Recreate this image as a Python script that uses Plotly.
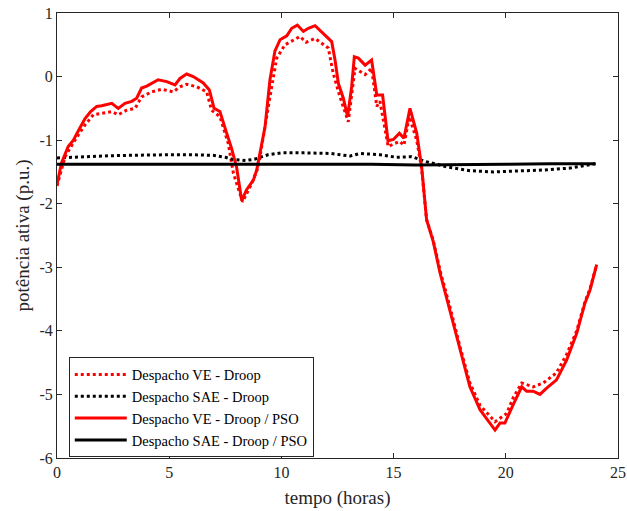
import plotly.graph_objects as go

# Despacho VE - Droop / PSO (red solid)
t_ve_pso = [0, 0.2, 0.5, 0.73, 1.0, 1.25, 1.5, 1.77, 1.99, 2.44, 2.73, 3.03, 3.33, 3.55, 3.77, 4.0,
            4.51, 4.89, 5.26, 5.48, 5.78, 6.07, 6.52, 6.79, 7.0, 7.26, 7.56, 7.78, 8.0, 8.23, 8.45,
            8.75, 8.9, 9.27, 9.49, 9.71, 9.94, 10.24, 10.46, 10.71, 10.98, 11.2, 11.5, 11.87, 12.24,
            12.39, 12.54, 12.76, 12.95, 13.13, 13.25, 13.43, 13.73, 14.02, 14.25, 14.51, 14.75, 14.99,
            15.26, 15.46, 15.73, 16.03, 16.25, 16.47, 16.77, 17.07, 17.51, 17.96, 18.4, 18.85, 19.52,
            19.74, 19.96, 20.33, 20.71, 20.93, 21.22, 21.52, 21.82, 22.26, 22.71, 23.16, 23.53, 23.75, 24.05]
ve_pso = [-1.70, -1.36, -1.10, -1.0, -0.82, -0.66, -0.55, -0.47, -0.46, -0.42, -0.50, -0.42, -0.39, -0.34, -0.18, -0.15,
          -0.05, -0.08, -0.13, -0.03, 0.04, 0.0, -0.10, -0.21, -0.50, -0.55, -0.89, -1.13, -1.42, -1.95, -1.78,
          -1.63, -1.47, -0.79, -0.05, 0.40, 0.58, 0.64, 0.76, 0.81, 0.71, 0.76, 0.80, 0.68, 0.55,
          0.26, -0.11, -0.34, -0.63, -0.16, 0.31, 0.29, 0.18, 0.26, -0.29, -0.29, -1.01, -0.99,
          -0.89, -0.97, -0.50, -0.89, -1.42, -2.25, -2.60, -3.09, -3.67, -4.30, -4.88, -5.24, -5.56,
          -5.45, -5.45, -5.16, -4.88, -4.95, -4.95, -5.0, -4.90, -4.77, -4.46, -4.04, -3.56, -3.36, -2.96]

# Despacho VE - Droop (red dotted)
t_ve_droop = [0, 0.36, 0.8, 1.25, 1.62, 1.99, 2.44, 2.73, 3.1, 3.48, 3.77, 4.22, 4.67, 5.18, 5.48, 5.78,
              6.22, 6.67, 6.89, 7.26, 7.63, 7.86, 8.27, 8.68, 8.97, 9.49, 9.79, 10.16, 10.83, 11.1, 11.5,
              12.09, 12.31, 12.61, 12.98, 13.28, 13.73, 14.02, 14.25, 14.39, 14.76, 15.06, 15.28, 15.46,
              15.7, 16.03, 16.25, 16.47, 16.77, 17.07, 17.51, 17.96, 18.4, 18.85, 19.52, 20.04, 20.33,
              20.71, 21.22, 21.67, 22.26, 22.71, 23.16, 23.53, 23.75, 24.05]
ve_droop = [-1.72, -1.26, -1.0, -0.76, -0.60, -0.58, -0.55, -0.60, -0.53, -0.50, -0.32, -0.24, -0.20, -0.24, -0.16, -0.12,
            -0.16, -0.24, -0.53, -0.63, -1.05, -1.52, -1.97, -1.68, -1.42, -0.32, 0.29, 0.50, 0.63, 0.54, 0.60,
            0.45, 0.05, -0.32, -0.71, 0.13, 0.03, 0.13, -0.47, -0.39, -1.10, -1.05, -1.02, -1.08,
            -0.63, -1.0, -1.45, -2.25, -2.58, -3.05, -3.62, -4.25, -4.82, -5.17, -5.43, -5.30, -5.05,
            -4.82, -4.88, -4.82, -4.66, -4.37, -4.0, -3.54, -3.34, -2.96]

# Despacho SAE - Droop (black dotted)
t_sae_droop = [0, 1, 2, 3, 4, 5, 6, 7, 7.5, 7.8, 8.4, 8.8, 9.4, 10.0, 11.0, 12.2, 13.06, 13.5, 14.4,
               15.14, 15.8, 16.47, 17.36, 18.4, 19.44, 20.48, 21.67, 22.86, 24.0]
sae_droop = [-1.28, -1.26, -1.25, -1.24, -1.23, -1.23, -1.23, -1.24, -1.27, -1.30, -1.32, -1.30, -1.23, -1.20,
             -1.20, -1.21, -1.25, -1.21, -1.23, -1.27, -1.26, -1.34, -1.42, -1.48, -1.50, -1.49, -1.47, -1.44, -1.37]

# Despacho SAE - Droop / PSO (black solid)
t_sae_pso = [0, 2, 4, 6, 8, 10, 12, 14, 16, 18, 20, 22, 24]
sae_pso = [-1.38, -1.38, -1.38, -1.37, -1.38, -1.38, -1.38, -1.38, -1.39, -1.39, -1.38, -1.37, -1.37]

x_ticks = [0, 5, 10, 15, 20, 25]
y_ticks = [1, 0, -1, -2, -3, -4, -5, -6]

SERIF = '"Liberation Serif", "Times New Roman", Times, serif'

fig = go.Figure()
fig.add_trace(go.Scatter(x=t_ve_droop, y=ve_droop, mode="lines", name="Despacho VE - Droop",
                         line=dict(color="#ff0000", width=3, dash="dot")))
fig.add_trace(go.Scatter(x=t_sae_droop, y=sae_droop, mode="lines", name="Despacho SAE - Droop",
                         line=dict(color="#000000", width=3, dash="dot")))
fig.add_trace(go.Scatter(x=t_ve_pso, y=ve_pso, mode="lines", name="Despacho VE - Droop / PSO",
                         line=dict(color="#ff0000", width=3)))
fig.add_trace(go.Scatter(x=t_sae_pso, y=sae_pso, mode="lines", name="Despacho SAE - Droop / PSO",
                         line=dict(color="#000000", width=3)))

axis_common = dict(showgrid=False, zeroline=False, showline=True, linecolor="#262626", linewidth=1,
                   mirror="ticks", ticks="inside", ticklen=5, tickcolor="#262626", automargin=False,
                   tickfont=dict(family=SERIF, size=16, color="#262626"))
fig.update_xaxes(range=[0, 25], tickvals=x_ticks, ticktext=[str(v) for v in x_ticks],
                 title=dict(text="tempo (horas)", font=dict(family=SERIF, size=19, color="#262626"),
                            standoff=10), **axis_common)
fig.update_yaxes(range=[-6, 1], tickvals=y_ticks, ticktext=[str(v) for v in y_ticks],
                 title=dict(text="potência ativa (p.u.)", font=dict(family=SERIF, size=19, color="#262626"),
                            standoff=4), **axis_common)

fig.update_layout(
    width=627, height=511,
    margin=dict(l=57, r=9, t=13, b=53),
    paper_bgcolor="white", plot_bgcolor="white",
    font=dict(family=SERIF),
    showlegend=True,
    legend=dict(x=0.021, y=0.1135, xanchor="left", yanchor="middle",
                bgcolor="white", bordercolor="#262626", borderwidth=1,
                font=dict(family=SERIF, size=14.5, color="#000000"),
                tracegroupgap=0, itemwidth=52),
)

fig.write_html("out.html")
